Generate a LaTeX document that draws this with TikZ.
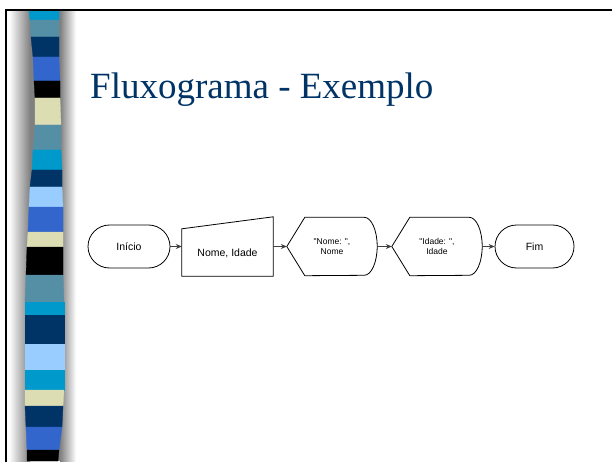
\documentclass[tikz,border=0pt]{standalone}
\usepackage{fontspec}
\setmainfont{Liberation Serif}
\newfontfamily\arialfont{Liberation Sans}
\usetikzlibrary{shapes.misc,arrows.meta,calc}

\definecolor{stripcyan}{RGB}{0,153,204}
\definecolor{stripsteel}{RGB}{85,143,166}
\definecolor{stripnavy}{RGB}{0,51,102}
\definecolor{stripblue}{RGB}{51,102,204}
\definecolor{stripbeige}{RGB}{221,221,180}
\definecolor{striplight}{RGB}{153,204,255}
\definecolor{titlenavy}{RGB}{0,51,102}

\tikzset{
  term/.style={draw, line width=0.8pt, rounded rectangle, minimum width=82pt, minimum height=43pt,
    inner sep=0pt, font=\arialfont\fontsize{10.5}{12}\selectfont},
  inbox/.style={inner sep=0pt, minimum width=91pt, text height=39.5pt, text depth=19.5pt,
    font=\arialfont\fontsize{10.5}{12}\selectfont},
  dispbox/.style={inner sep=0pt, minimum width=90pt, minimum height=58pt, align=center,
    font=\arialfont\fontsize{8.5}{10.5}\selectfont},
  flow/.style={draw=black!75, line width=0.7pt, -{Stealth[length=6pt,width=5pt]}},
  outline/.style={draw, line width=0.8pt}
}

\newcommand{\dispshape}[1]{%
  \draw[outline] (#1.west) -- ($(#1.north west)+(18,0)$) -- ($(#1.north east)+(-13,0)$)
    arc[start angle=90, end angle=-90, x radius=13pt, y radius=29pt]
    -- ($(#1.south west)+(18,0)$) -- cycle;}

\begin{document}
\begin{tikzpicture}[x=1pt,y=1pt]
    \clip (0,0) rectangle (612,461);
    \fill[white] (0,0) rectangle (612,461);

    % shadow behind the strip
    \shade[left color=white, right color=black!50] (9,0) rectangle (30,451);
    \fill[black!50] (30,0) rectangle (60,451);
    \shade[left color=black!50, right color=white] (60,0) rectangle (76,451);

    % striped band
    \foreach \ya/\la/\ra/\yb/\lb/\rb/\col in {
      451/29/59/441/30/59/stripcyan, 441/30/59/424/31/59/stripsteel,
      424/31/59/404/33/59/stripnavy, 404/33/59/380/34/60/stripblue,
      380/34/60/363/35/60/black, 363/35/60/336/35/61/stripbeige,
      336/35/61/311/33/61/stripsteel, 311/33/61/291/32/62/stripcyan,
      291/32/62/274/30/62/stripnavy, 274/30/62/254/29/63/striplight,
      254/29/63/229/28/63/stripblue, 229/28/63/214/27/63/stripbeige,
      214/27/63/186/26/63/black, 186/26/63/159/25/64/stripsteel,
      159/25/64/146/25/64/stripcyan, 146/25/64/117/25/64/stripnavy,
      117/25/64/91/25/64/striplight, 91/25/64/71/25/64/stripcyan,
      71/25/64/55/25/63/stripbeige, 55/25/63/34/26/62/stripnavy,
      34/26/62/11/27/59/stripblue, 11/27/59/0/27/58/black}
      \filldraw[\col, line width=0.3pt] (\la,\ya) -- (\ra,\ya) -- (\rb,\yb) -- (\lb,\yb) -- cycle;

    % frame
    \draw[line width=1.5pt] (6,-5) -- (6,451) -- (620,451);

    % title
    \node[anchor=base west, inner sep=0pt, text=titlenavy, font=\fontsize{37}{42}\selectfont]
      (title) at (90,362) {Fluxograma - Exemplo};

    % flowchart
    \node[term] (ini) at (129,214.5) {Início};
    \node[inbox] (ent) at (227.5,214.5) {Nome, Idade};
    \draw[outline] (ent.south west) -- ($(ent.north west)+(0,-12)$) -- (ent.north east)
      -- (ent.south east) -- cycle;
    \node[dispbox] (nome) at (332,214.5) {"Nome: ",\\Nome};
    \dispshape{nome}
    \node[dispbox] (idade) at (437,214.5) {"Idade: ",\\Idade};
    \dispshape{idade}
    \node[term, minimum width=79pt] (fim) at (534.5,214.5) {Fim};

    \draw[flow] (ini.east) -- (ent.west);
    \draw[flow] (ent.east) -- (nome.west);
    \draw[flow] (nome.east) -- (idade.west);
    \draw[flow] (idade.east) -- (fim.west);
\end{tikzpicture}
\end{document}
